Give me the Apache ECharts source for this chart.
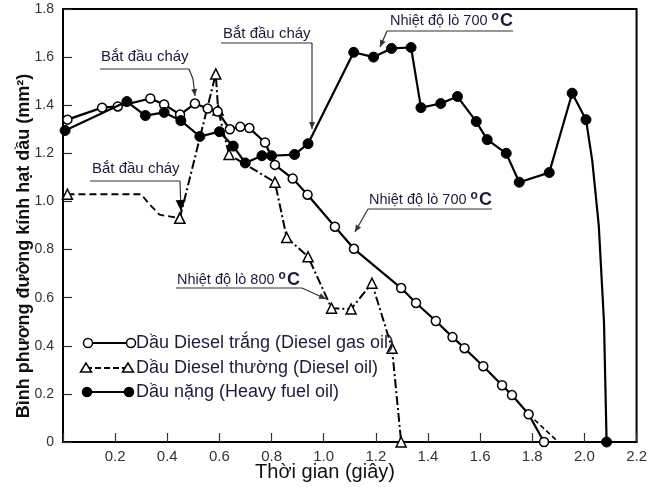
<!DOCTYPE html>
<html><head><meta charset="utf-8">
<script src="https://cdn.jsdelivr.net/npm/echarts@6/dist/echarts.min.js"></script>
<style>html,body{margin:0;padding:0;background:#fff}#c{width:650px;height:487px}</style>
</head><body><div id="c"></div>
<script>
// ---- data (x: seconds, y: d^2 in mm^2) ----
const gasOil = [[0.017,1.34],[0.15,1.39],[0.21,1.395],[0.335,1.428],[0.388,1.403],[0.449,1.361],[0.506,1.407],[0.555,1.386],[0.593,1.374],[0.64,1.30],[0.68,1.31],[0.715,1.305],[0.775,1.245],[0.813,1.152],[0.881,1.095],[0.938,1.028],[1.043,0.895],[1.116,0.803],[1.297,0.64],[1.354,0.578],[1.43,0.503],[1.494,0.436],[1.54,0.39],[1.612,0.315],[1.684,0.236],[1.722,0.195],[1.786,0.115],[1.845,0]];
const gasOilDashTail = [[1.786,0.115],[1.90,0]];
const dieselOilPre = [[0.017,1.03],[0.30,1.03],[0.33,0.99],[0.37,0.945],[0.448,0.93]];
const dieselOilPreMarked = [true,false,false,false,true];
const dieselOilPost = [[0.448,0.93],[0.586,1.53],[0.595,1.38],[0.637,1.195],[0.813,1.08],[0.858,0.85],[0.94,0.77],[1.03,0.556],[1.105,0.553],[1.185,0.66],[1.262,0.39],[1.297,0]];
const heavyOil = [[0.008,1.295],[0.245,1.415],[0.316,1.357],[0.388,1.37],[0.452,1.336],[0.525,1.27],[0.60,1.29],[0.653,1.23],[0.699,1.16],[0.763,1.19],[0.80,1.19],[0.888,1.195],[0.94,1.24],[1.115,1.62],[1.191,1.60],[1.26,1.636],[1.335,1.64],[1.373,1.39],[1.449,1.407],[1.513,1.436],[1.585,1.332],[1.627,1.257],[1.70,1.20],[1.75,1.08],[1.865,1.12],[1.953,1.45],[2.006,1.34]];
const heavyOilFall = [[2.03,1.17],[2.055,0.90],[2.075,0.50]];
const heavyOilEnd = [[2.085,0]];
const legendNames = ['Dầu Diesel trắng (Diesel gas oil)','Dầu Diesel thường (Diesel oil)','Dầu nặng (Heavy fuel oil)'];
const xTickLabels = ['','0.2','0.4','0.6','0.8','1.0','1.2','1.4','1.6','1.8','2.0','2.2'];
const yTickLabels = ['0','0.2','0.4','0.6','0.8','1.0','1.2','1.4','1.6','1.8'];
const fireText = 'Bắt đầu cháy';
const xTitle = 'Thời gian (giây)';
const yTitle = 'Bình phương đường kính hạt dầu (mm²)';

const FONT = 'Liberation Sans, Arial, sans-serif';
const TXT = '#1c1c3a';
const chart = echarts.init(document.getElementById('c'), null, {renderer:'canvas'});

const heavyData = heavyOil.map(p=>({value:p}))
  .concat(heavyOilFall.map(p=>({value:p, symbol:'none'})))
  .concat(heavyOilEnd.map(p=>({value:p})));
const preData = dieselOilPre.map((p,i)=>dieselOilPreMarked[i]?{value:p}:{value:p, symbol:'none'});

// graphic helpers (annotations, titles & legend)
function line(pts, dash){ return {type:'polyline', shape:{points:pts}, style:{stroke:'#333', lineWidth:1.2, lineDash: dash||null, fill:null}, z:100}; }
function head(p0, p1, len, w, color){
  const dx=p1[0]-p0[0], dy=p1[1]-p0[1], L=Math.hypot(dx,dy), ux=dx/L, uy=dy/L;
  const bx=p1[0]-ux*len, by=p1[1]-uy*len;
  return {type:'polygon', shape:{points:[[p1[0],p1[1]],[bx-uy*w,by+ux*w],[bx+uy*w,by-ux*w]]}, style:{fill:color||'#333'}, z:100};
}
function annText(x,y,text){ return {type:'text', x:x, y:y, style:{text:text, font:'15px '+FONT, fill:TXT, verticalAlign:'middle'}, z:100}; }
function annTemp(x,y,t){
  return {type:'text', x:x, y:y, z:100, style:{text:'{a|Nhiệt độ lò '+t+' }{o|o}{c|C}', verticalAlign:'middle', fill:TXT,
    rich:{a:{font:'14.5px '+FONT, fill:TXT}, o:{font:'bold 12px '+FONT, fill:TXT, padding:[0,1,9,0]}, c:{font:'bold 18px '+FONT, fill:TXT}}}};
}
const graphics = [];
function ann(textEl, under, arrow, filled){
  graphics.push(textEl, line(under), line(arrow));
  const n=arrow.length; graphics.push(head(arrow[n-2], arrow[n-1], filled?11:7, filled?5:3, filled?'#000':'#333'));
}
ann(annText(101,57,fireText), [[100,69],[189,69]], [[189,69],[193,79],[195,96]]);
ann(annText(223,34,fireText), [[221,43],[312,43]], [[312,43],[312,129]]);
ann(annText(92,169,fireText), [[90,181],[180,181]], [[180,181],[181,211]], true);
ann(annTemp(390,21,'700'), [[387,31],[513,31]], [[387,31],[380,47]]);
ann(annTemp(369,200,'700'), [[368,209],[492,209]], [[368,209],[355,232]]);
ann(annTemp(177,280,'800'), [[176,288],[302,288]], [[302,288],[326,299]]);

// axis titles
graphics.push({type:'text', x:325, y:472, style:{text:xTitle, font:'20px '+FONT, fill:'#111', align:'center', verticalAlign:'middle'}, z:100});
graphics.push({type:'text', x:24, y:246, rotation:Math.PI/2, style:{text:yTitle, font:'bold 18px '+FONT, fill:'#111', align:'center', verticalAlign:'middle'}, z:100});

// legend (drawn)
function circ(x,y,filled){ return {type:'circle', shape:{cx:x,cy:y,r:4.5}, style:{fill:filled?'#000':'#fff', stroke:'#000', lineWidth:1.5}, z:101}; }
function tri(x,y){ return {type:'polygon', shape:{points:[[x,y-5],[x-5.5,y+4],[x+5.5,y+4]]}, style:{fill:'#fff', stroke:'#000', lineWidth:1.5}, z:101}; }
function ltxt(x,y,t){ return {type:'text', x:x, y:y, style:{text:t, font:'18px '+FONT, fill:TXT, verticalAlign:'middle'}, z:101}; }
function lline(pts,dash){ return {type:'polyline', shape:{points:pts}, style:{stroke:'#000', lineWidth:2, lineDash:dash||null}, z:100}; }
graphics.push(lline([[88,343],[131,343]]), circ(88,343,false), circ(131,343,false), ltxt(136,343,legendNames[0]));
graphics.push(lline([[86,368],[128,368]],[6,3]), tri(86,368), tri(128,368), ltxt(136,368,legendNames[1]));
graphics.push(lline([[87,392],[129,392]]), circ(87,392,true), circ(129,392,true), ltxt(136,392,legendNames[2]));

const option = {
  animation:false,
  backgroundColor:'#fff',
  grid:{left:63, right:6, top:9, bottom:45, show:true, borderColor:'#000', borderWidth:2, backgroundColor:'transparent'},
  xAxis:{type:'value', min:0, max:2.2, interval:0.2,
    axisLine:{lineStyle:{color:'#000', width:2}},
    axisTick:{inside:true, length:9, lineStyle:{color:'#333', width:1.2}},
    axisLabel:{fontSize:15, fontFamily:FONT, color:'#333', margin:7,
      formatter:(v)=>xTickLabels[Math.round(v/0.2)]},
    splitLine:{show:false}},
  yAxis:{type:'value', min:0, max:1.8, interval:0.2,
    axisLine:{lineStyle:{color:'#000', width:2}},
    axisTick:{inside:true, length:9, lineStyle:{color:'#333', width:1.2}},
    axisLabel:{fontSize:14, fontFamily:FONT, color:'#333', margin:9,
      formatter:(v)=>yTickLabels[Math.round(v/0.2)]},
    splitLine:{show:false}},
  series:[
    {name:'gasTail', type:'line', data:gasOilDashTail, symbol:'none', lineStyle:{color:'#000', width:1.6, type:[5,3]}, z:2},
    {name:legendNames[1]+' a', type:'line', data:preData, symbol:'triangle', symbolSize:10,
      itemStyle:{color:'#fff', borderColor:'#000', borderWidth:1.5}, lineStyle:{color:'#000', width:1.8, type:[7,4]}, z:3},
    {name:legendNames[1], type:'line', data:dieselOilPost, symbol:'triangle', symbolSize:10,
      itemStyle:{color:'#fff', borderColor:'#000', borderWidth:1.5}, lineStyle:{color:'#000', width:2, type:[9,3,2,3]}, z:3},
    {name:legendNames[0], type:'line', data:gasOil, symbol:'circle', symbolSize:9,
      itemStyle:{color:'#fff', borderColor:'#000', borderWidth:1.5}, lineStyle:{color:'#000', width:2.2}, z:4},
    {name:legendNames[2], type:'line', data:heavyData, symbol:'circle', symbolSize:10,
      itemStyle:{color:'#000', borderColor:'#000', borderWidth:1}, lineStyle:{color:'#000', width:2.2}, z:5}
  ],
  graphic: graphics
};
chart.setOption(option);
</script></body></html>
